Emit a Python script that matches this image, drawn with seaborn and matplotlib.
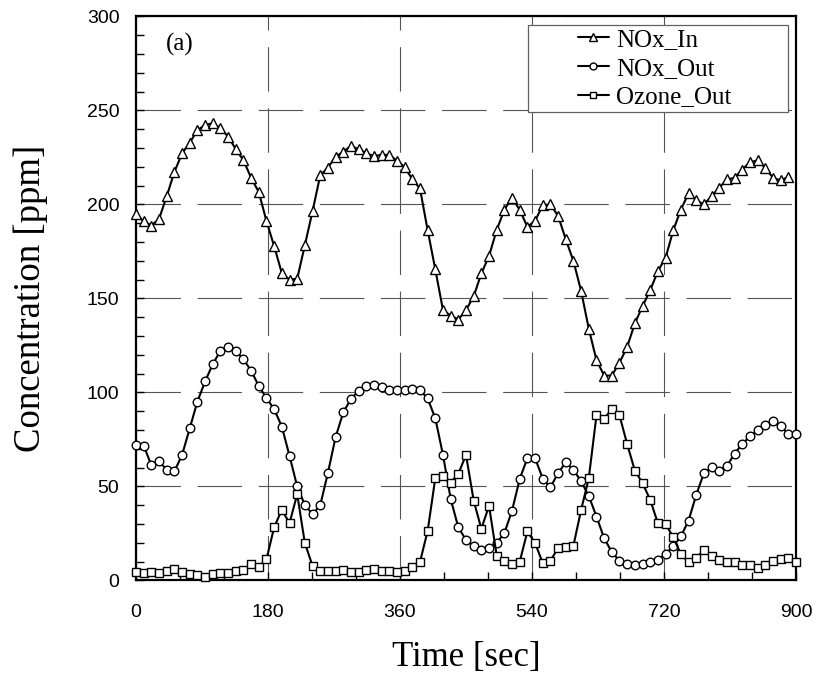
import matplotlib
matplotlib.use("Agg")
import matplotlib.pyplot as plt
import seaborn as sns
from matplotlib.patches import Rectangle
from matplotlib.ticker import MultipleLocator

# sampling times (s), one sample about every 10.5 s
time_sec = [0.0, 10.5, 20.9, 31.4, 41.9, 52.3, 62.8, 73.3, 83.7, 94.2,
            104.7, 115.1, 125.6, 136.0, 146.5, 157.0, 167.4, 177.9, 188.4, 198.8,
            209.3, 219.8, 230.2, 240.7, 251.2, 261.6, 272.1, 282.6, 293.0, 303.5,
            314.0, 324.4, 334.9, 345.3, 355.8, 366.3, 376.7, 387.2, 397.7, 408.1,
            418.6, 429.1, 439.5, 450.0, 460.5, 470.9, 481.4, 491.9, 502.3, 512.8,
            523.3, 533.7, 544.2, 554.7, 565.1, 575.6, 586.0, 596.5, 607.0, 617.4,
            627.9, 638.4, 648.8, 659.3, 669.8, 680.2, 690.7, 701.2, 711.6, 722.1,
            732.6, 743.0, 753.5, 764.0, 774.4, 784.9, 795.3, 805.8, 816.3, 826.7,
            837.2, 847.7, 858.1, 868.6, 879.1, 889.5, 900.0]

nox_in = [194.7, 191.0, 188.8, 192.3, 204.4, 217.3, 227.2, 232.9, 239.5, 242.3,
          243.2, 240.6, 236.1, 229.4, 223.5, 214.1, 206.6, 191.1, 177.8, 163.5,
          160.0, 160.5, 178.3, 196.4, 215.5, 219.6, 225.3, 228.1, 231.1, 229.4,
          227.4, 225.6, 226.5, 226.3, 223.3, 219.8, 213.5, 208.5, 186.3, 165.5,
          143.8, 140.9, 138.8, 143.8, 151.2, 163.3, 172.6, 186.5, 197.2, 203.7,
          197.0, 188.1, 191.3, 199.6, 200.0, 193.9, 181.5, 169.9, 153.9, 133.9,
          117.2, 109.0, 109.0, 115.8, 124.3, 136.7, 145.9, 154.4, 164.5, 171.6,
          186.2, 197.3, 205.9, 202.3, 200.0, 204.4, 208.9, 213.3, 214.2, 218.6,
          222.5, 223.4, 219.5, 214.2, 212.8, 214.7]

nox_out = [72.2, 71.8, 61.2, 63.3, 58.9, 58.0, 66.8, 81.0, 95.2, 105.9,
           115.1, 122.2, 124.1, 122.2, 117.7, 111.5, 103.5, 97.0, 91.1, 81.9,
           66.3, 50.0, 40.2, 35.3, 40.0, 57.1, 76.2, 89.4, 96.5, 100.9,
           103.2, 104.1, 102.8, 101.1, 101.4, 101.4, 102.0, 101.4, 96.8, 86.3,
           66.8, 43.4, 28.2, 21.6, 18.1, 16.3, 17.2, 19.9, 25.2, 37.2,
           54.1, 65.1, 65.1, 54.1, 49.6, 57.1, 62.8, 58.9, 52.7, 45.0,
           34.0, 22.5, 15.1, 10.6, 8.7, 8.3, 8.7, 9.6, 11.0, 14.0,
           18.4, 23.4, 31.9, 45.6, 57.1, 60.1, 58.5, 61.0, 67.4, 72.7,
           76.6, 80.1, 82.8, 84.6, 82.3, 77.8, 77.8]

ozone_out = [4.3, 3.9, 4.3, 3.9, 4.8, 6.2, 4.3, 3.5, 3.0, 2.1,
             3.4, 3.9, 3.9, 4.8, 5.7, 8.9, 7.4, 11.3, 28.4, 37.6,
             30.5, 45.9, 19.9, 7.8, 4.8, 5.3, 4.8, 5.7, 4.3, 4.3,
             5.7, 6.0, 4.8, 4.8, 4.3, 4.8, 7.4, 9.8, 26.4, 54.4,
             55.7, 52.1, 56.7, 66.8, 42.4, 27.5, 39.7, 13.1, 10.5, 8.7,
             10.1, 26.1, 19.9, 9.2, 10.6, 17.2, 17.7, 18.6, 37.6, 54.4,
             87.8, 86.0, 91.3, 87.8, 72.5, 58.5, 51.8, 42.9, 30.5, 30.1,
             23.0, 14.0, 9.6, 11.9, 16.3, 12.8, 11.0, 9.8, 9.8, 8.3,
             8.3, 6.6, 8.3, 10.6, 11.3, 12.2, 10.1]

series = [
    ("NOx_In", time_sec[:len(nox_in)], nox_in, "^", 7.5),
    ("NOx_Out", time_sec, nox_out, "o", 6.2),
    ("Ozone_Out", time_sec, ozone_out, "s", 5.6),
]

sns.set_style("ticks")
plt.rcParams["text.color"] = "black"
plt.rcParams["xtick.color"] = "black"
plt.rcParams["ytick.color"] = "black"
plt.rcParams["axes.labelcolor"] = "black"
serif = "Liberation Serif"
sans = "Liberation Sans"

fig = plt.figure(figsize=(8.17, 6.86), dpi=100)
ax = fig.add_axes([0.1665, 0.1538, 0.8078, 0.8222])

for name, t, vals, mk, ms in series:
    sns.lineplot(x=t, y=vals, ax=ax, color="black", lw=1.5, marker=mk,
                 markersize=ms, markerfacecolor="white", markeredgecolor="black",
                 markeredgewidth=1.0, label=name, estimator=None, sort=False,
                 zorder=3, clip_on=False)

ax.set_xlim(0, 900)
ax.set_ylim(0, 300)
ax.xaxis.set_major_locator(MultipleLocator(180))
ax.xaxis.set_minor_locator(MultipleLocator(60))
ax.yaxis.set_major_locator(MultipleLocator(50))
ax.yaxis.set_minor_locator(MultipleLocator(10))

# long gray dashes, like the original
ax.grid(True, which="major", color="#555555", lw=0.8, ls=(0, (40, 15)))
ax.set_axisbelow(True)

for sp in ax.spines.values():
    sp.set_color("black")
    sp.set_linewidth(1.6)

ax.tick_params(which="both", direction="in", length=6, width=1.0, color="black")
ax.tick_params(axis="x", which="major", pad=17)
ax.tick_params(axis="y", which="major", pad=12)
for lbl in ax.get_xticklabels() + ax.get_yticklabels():
    lbl.set_family(sans)
    lbl.set_fontsize(14)

ax.set_xlabel("Time [sec]", family=serif, fontsize=25, labelpad=14)
ax.set_ylabel("Concentration [ppm]", family=serif, fontsize=26.5, labelpad=28)

ax.text(60, 285, "(a)", family=serif, fontsize=18, ha="center", va="center")

# legend box drawn separately so it can be wider than its content
box = Rectangle((0.594, 0.831), 0.394, 0.154, transform=ax.transAxes,
                facecolor="white", edgecolor="#606060", lw=0.9, zorder=4)
ax.add_patch(box)
leg = ax.legend(loc="center", bbox_to_anchor=(0.786, 0.908), frameon=False,
                prop={"family": serif, "size": 18}, handlelength=1.25,
                handletextpad=0.3, labelspacing=0.25, markerscale=0.8,
                borderpad=0.1)
leg.set_zorder(5)

fig.savefig("out.png", dpi=100)
